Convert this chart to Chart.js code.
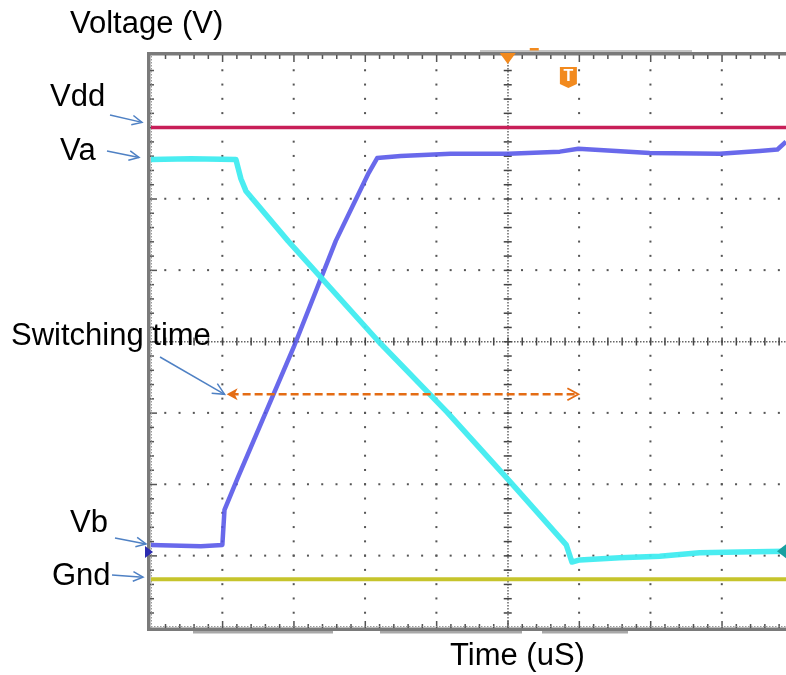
<!DOCTYPE html>
<html>
<head>
<meta charset="utf-8">
<title>Switching time</title>
<script src="https://cdn.jsdelivr.net/npm/chart.js@4"></script>
<style>
  body { margin: 0; background: #fff; }
  canvas { display: block; }
</style>
</head>
<body>
<canvas id="scope" width="786" height="675"></canvas>
<script>
// units are screen divisions (1 = one graticule square)
let xDivs = 8.9;     // visible part of the 10-division screen
let yDivs = 8;

// supply rails
let vdd = 7.0;
let gnd = 0.67;

// node A, cyan trace
let vaTime = [0, 0.56, 1.19, 1.26, 1.33, 1.92, 3.19, 4.15, 5.01, 5.82, 5.90, 6.01, 6.57, 7.13, 7.69, 8.25, 8.9];
let vaVolt = [6.55, 6.56, 6.55, 6.28, 6.11, 5.41, 4.0, 3.01, 2.06, 1.15, 0.91, 0.94, 0.97, 0.99, 1.04, 1.05, 1.06];

// node B, blue trace
let vbTime = [0, 0.70, 1.0, 1.03, 1.22, 2.0, 2.59, 3.05, 3.17, 3.5, 4.2, 5.01, 5.73, 5.99, 6.99, 7.97, 8.53, 8.78, 8.9];
let vbVolt = [1.15, 1.13, 1.15, 1.64, 2.10, 3.92, 5.41, 6.36, 6.57, 6.60, 6.63, 6.63, 6.66, 6.70, 6.64, 6.63, 6.67, 6.69, 6.80];

// switching window (dashed arrow)
let swStart = 1.06;
let swEnd = 5.99;
let swLevel = 3.26;

// trigger position and channel offsets
let trigTime = 5.0;
let trigBadge = 5.85;
let chBOffset = 1.05;
let chAOffset = 1.06;

function pts(xs, ys) {
  return xs.map((t, i) => ({ x: t, y: ys[i] }));
}

function arrow(ctx, x1, y1, x2, y2, size) {
  let ang = Math.atan2(y2 - y1, x2 - x1);
  ctx.beginPath();
  ctx.moveTo(x1, y1);
  ctx.lineTo(x2, y2);
  ctx.stroke();
  ctx.beginPath();
  ctx.moveTo(x2 - size * Math.cos(ang - 0.45), y2 - size * Math.sin(ang - 0.45));
  ctx.lineTo(x2, y2);
  ctx.lineTo(x2 - size * Math.cos(ang + 0.45), y2 - size * Math.sin(ang + 0.45));
  ctx.stroke();
}

// scope graticule: dotted major lines, fine centre cross, framed edges
let graticule = {
  id: 'graticule',
  beforeDatasetsDraw(chart) {
    let { ctx, chartArea: a, scales: { x, y } } = chart;
    ctx.save();
    ctx.fillStyle = '#555';
    for (let i = 1; i < 10; i++) {
      let px = x.getPixelForValue(i);
      if (px > a.right) break;
      if (i === 5) continue;
      for (let j = 1; j < yDivs * 5; j++) {
        let py = y.getPixelForValue(j / 5);
        ctx.fillRect(px - 1, py - 1, 2, 2);
      }
    }
    for (let i = 1; i < yDivs; i++) {
      if (i === 4) continue;
      let py = y.getPixelForValue(i);
      for (let j = 1; j < 50; j++) {
        let px = x.getPixelForValue(j / 5);
        if (px > a.right) break;
        ctx.fillRect(px - 1, py - 1, 2, 2);
      }
    }

    // centre cross
    let cx = x.getPixelForValue(5);
    let cy = y.getPixelForValue(4);
    ctx.fillStyle = '#666';
    for (let py = a.top; py < a.bottom; py += 3) ctx.fillRect(cx - 0.5, py, 1.5, 1.5);
    for (let px = a.left; px < a.right; px += 3) ctx.fillRect(px, cy - 0.5, 1.5, 1.5);
    ctx.fillStyle = '#444';
    for (let j = 1; j < yDivs * 5; j++) {
      let py = y.getPixelForValue(j / 5);
      ctx.fillRect(cx - 4, py - 0.5, 8, 1.5);
    }
    for (let j = 1; j < 50; j++) {
      let px = x.getPixelForValue(j / 5);
      if (px > a.right) break;
      ctx.fillRect(px - 0.5, cy - 4, 1.5, 8);
    }

    // frame with inner ticks
    ctx.fillStyle = '#7a7a7a';
    ctx.fillRect(a.left - 4, a.top - 4, a.right - a.left + 4, 3.5);
    ctx.fillRect(a.left - 4, a.top - 4, 3.5, a.bottom - a.top + 8);
    ctx.fillRect(a.left - 4, a.bottom + 0.5, a.right - a.left + 4, 3.5);
    ctx.fillStyle = '#555';
    for (let j = 1; j < yDivs * 5; j++) {
      let py = y.getPixelForValue(j / 5);
      let len = j % 5 === 0 ? 7 : 4;
      ctx.fillRect(a.left - 1, py - 0.5, len, 1.5);
    }
    for (let j = 1; j < 50; j++) {
      let px = x.getPixelForValue(j / 5);
      if (px > a.right) break;
      let len = j % 5 === 0 ? 7 : 4;
      ctx.fillRect(px - 0.5, a.top - 1, 1.5, len);
      ctx.fillRect(px - 0.5, a.bottom + 1 - len, 1.5, len);
    }
    ctx.fillStyle = '#999';
    for (let px = a.left; px < a.right; px += 3) ctx.fillRect(px, a.bottom - 1, 1.5, 1);
    for (let py = a.top; py < a.bottom; py += 3) ctx.fillRect(a.left, py, 1, 1.5);

    // status bars round the screen
    ctx.fillStyle = '#a8a8a8';
    ctx.fillRect(193, a.bottom + 4, 140, 2.5);
    ctx.fillRect(380, a.bottom + 4, 142, 2.5);
    ctx.fillRect(542, a.bottom + 4, 86, 2.5);
    ctx.fillStyle = '#c4c4c4';
    ctx.fillRect(480, a.top - 6, 212, 2);
    ctx.restore();
  },
  afterDatasetsDraw(chart) {
    let { ctx, chartArea: a, scales: { x, y } } = chart;
    ctx.save();
    // trigger marker
    let tx = x.getPixelForValue(trigTime);
    ctx.fillStyle = '#f28a1e';
    ctx.beginPath();
    ctx.moveTo(tx - 8, a.top - 3);
    ctx.lineTo(tx + 8, a.top - 3);
    ctx.lineTo(tx, a.top + 8);
    ctx.closePath();
    ctx.fill();
    ctx.fillRect(tx + 22, a.top - 8, 9, 2.5);
    // trigger level badge
    let bx = x.getPixelForValue(trigBadge);
    ctx.beginPath();
    ctx.moveTo(bx - 8.5, a.top + 11);
    ctx.lineTo(bx + 8.5, a.top + 11);
    ctx.lineTo(bx + 8.5, a.top + 28);
    ctx.lineTo(bx, a.top + 32);
    ctx.lineTo(bx - 8.5, a.top + 28);
    ctx.closePath();
    ctx.fill();
    ctx.fillStyle = '#fff';
    ctx.font = 'bold 16px "Liberation Sans", Arial, sans-serif';
    ctx.textAlign = 'center';
    ctx.textBaseline = 'middle';
    ctx.fillText('T', bx, a.top + 21);

    // channel ground markers
    let by = y.getPixelForValue(chBOffset);
    ctx.fillStyle = '#2b2bb0';
    ctx.beginPath();
    ctx.moveTo(a.left - 6, by - 6);
    ctx.lineTo(a.left + 2, by);
    ctx.lineTo(a.left - 6, by + 6);
    ctx.closePath();
    ctx.fill();
    let ay = y.getPixelForValue(chAOffset);
    ctx.fillStyle = '#18a0a0';
    ctx.beginPath();
    ctx.moveTo(a.right, ay - 7);
    ctx.lineTo(a.right - 9, ay);
    ctx.lineTo(a.right, ay + 7);
    ctx.closePath();
    ctx.fill();

    // switching window
    let s1 = x.getPixelForValue(swStart);
    let s2 = x.getPixelForValue(swEnd);
    let sy = y.getPixelForValue(swLevel);
    ctx.strokeStyle = '#e46c14';
    ctx.lineWidth = 2.5;
    ctx.setLineDash([8, 4]);
    ctx.beginPath();
    ctx.moveTo(s1 + 4, sy);
    ctx.lineTo(s2 - 3, sy);
    ctx.stroke();
    ctx.setLineDash([]);
    ctx.fillStyle = '#e46c14';
    ctx.beginPath();
    ctx.moveTo(s1 + 11, sy - 6);
    ctx.lineTo(s1, sy);
    ctx.lineTo(s1 + 11, sy + 6);
    ctx.lineTo(s1 + 8, sy);
    ctx.closePath();
    ctx.fill();
    ctx.lineWidth = 1.8;
    ctx.beginPath();
    ctx.moveTo(s2 - 11, sy - 6);
    ctx.lineTo(s2, sy);
    ctx.lineTo(s2 - 11, sy + 6);
    ctx.stroke();
    ctx.restore();
  },
  afterDraw(chart) {
    let { ctx, chartArea: a, scales: { x, y } } = chart;
    ctx.save();
    ctx.fillStyle = '#000';
    ctx.font = '31px "Liberation Sans", Arial, sans-serif';
    ctx.textBaseline = 'alphabetic';
    ctx.fillText('Voltage (V)', 70, 33);
    ctx.fillText('Vdd', 50, 106);
    ctx.fillText('Va', 60, 160);
    ctx.fillText('Switching time', 11, 345);
    ctx.fillText('Vb', 70, 532);
    ctx.fillText('Gnd', 52, 585);
    ctx.fillText('Time (uS)', 450, 665);

    // pointer arrows
    ctx.strokeStyle = '#4f81c4';
    ctx.lineWidth = 1.5;
    arrow(ctx, 110, 115, a.left - 9, y.getPixelForValue(vdd) - 5, 11);
    arrow(ctx, 107, 151, a.left - 12, y.getPixelForValue(vaVolt[0]) - 2, 11);
    arrow(ctx, 160, 357, x.getPixelForValue(swStart) - 2, y.getPixelForValue(swLevel), 13);
    arrow(ctx, 115, 538, a.left - 5, y.getPixelForValue(vbVolt[0]) - 1, 11);
    arrow(ctx, 112, 575, a.left - 8, y.getPixelForValue(gnd) - 2, 11);
    ctx.restore();
  }
};

new Chart(document.getElementById('scope'), {
  type: 'line',
  data: {
    datasets: [
      {
        data: pts(vaTime, vaVolt),
        borderColor: 'rgba(64, 236, 240, 0.95)',
        borderWidth: 5.5
      },
      {
        data: pts(vbTime, vbVolt),
        borderColor: 'rgba(84, 84, 232, 0.88)',
        borderWidth: 4.5
      },
      {
        data: pts([0, xDivs], [vdd, vdd]),
        borderColor: '#c81e58',
        borderWidth: 3.5
      },
      {
        data: pts([0, xDivs], [gnd, gnd]),
        borderColor: '#c6c42c',
        borderWidth: 4
      }
    ]
  },
  options: {
    responsive: false,
    animation: false,
    layout: { padding: { left: 151, top: 56, right: 0, bottom: 48 } },
    elements: {
      point: { radius: 0 },
      line: { tension: 0, borderJoinStyle: 'round' }
    },
    scales: {
      x: { type: 'linear', min: 0, max: xDivs, display: false },
      y: { type: 'linear', min: 0, max: yDivs, display: false }
    },
    plugins: {
      legend: { display: false },
      tooltip: { enabled: false }
    }
  },
  plugins: [graticule]
});
</script>
</body>
</html>
